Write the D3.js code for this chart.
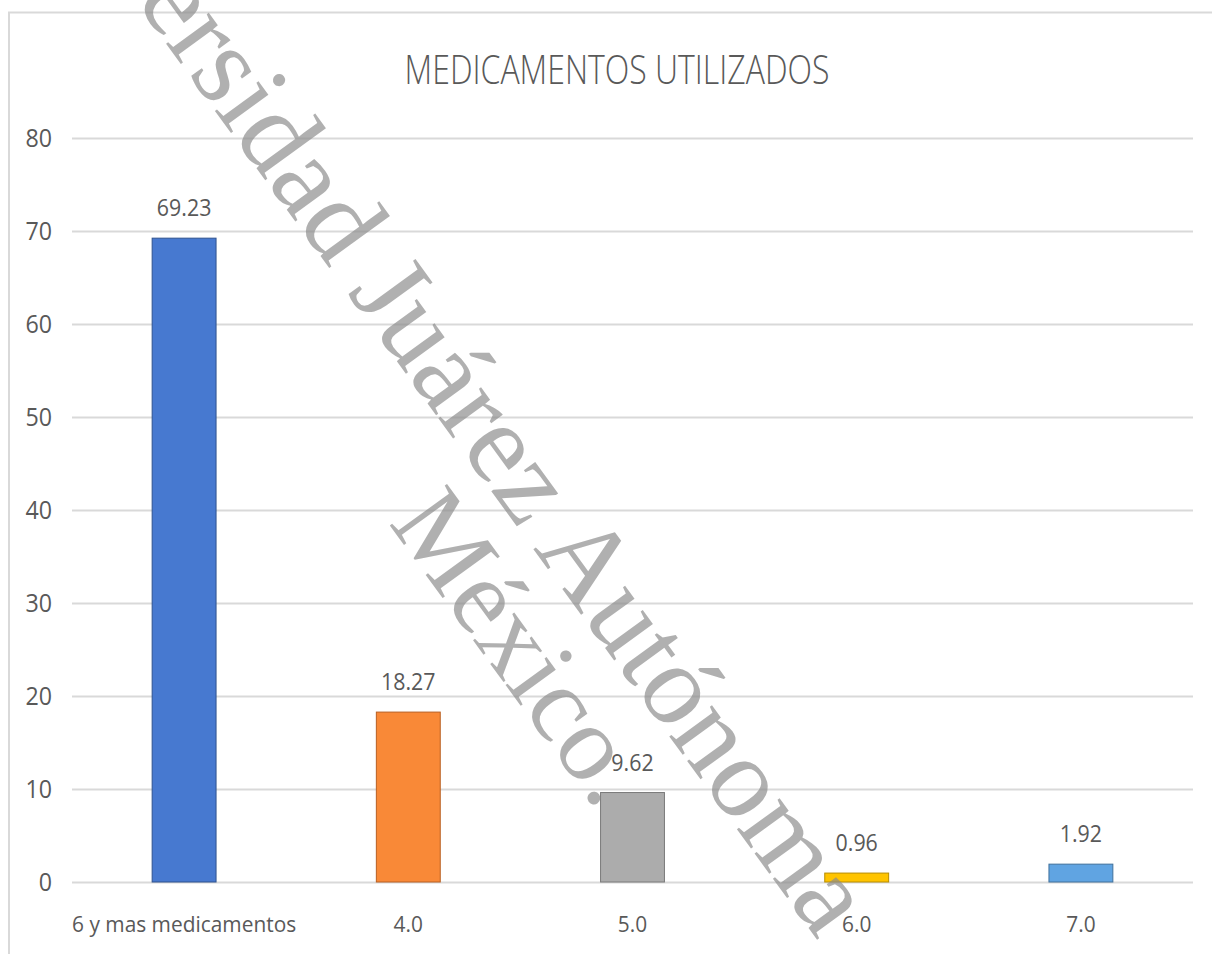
<!DOCTYPE html>
<html>
<head>
<meta charset="utf-8">
<script src="https://cdn.jsdelivr.net/npm/d3@7"></script>
<style>
  html, body { margin: 0; padding: 0; background: #fff; }
  svg { display: block; }
  text { font-family: "Open Sans", "Noto Sans", sans-serif; fill: #595959; }
</style>
</head>
<body>
<div id="chart"></div>
<script>
/* CONSTANTS AND GLOBALS */
const width = 1212,
  height = 954,
  margin = { top: 138, bottom: 72, left: 72, right: 19 };

const categories = ["6 y mas medicamentos", "4.0", "5.0", "6.0", "7.0"];
const values = [69.23, 18.27, 9.62, 0.96, 1.92];
const labels = ["69.23", "18.27", "9.62", "0.96", "1.92"];
const barColors = ["#4779d0", "#f98937", "#acacac", "#ffc400", "#60a4e2"];
const barStrokes = ["#2f528f", "#b85f22", "#7a7a7a", "#b88d00", "#41719c"];
const yTicks = [0, 10, 20, 30, 40, 50, 60, 70, 80];
const titleText = "MEDICAMENTOS UTILIZADOS";
const watermark = ["Universidad Juárez Autónoma", "México."];

let svg;

/**
* INITIALIZING FUNCTION
* */
function init() {
  svg = d3.select("#chart").append("svg")
    .attr("width", width)
    .attr("height", height);

  // chart frame
  svg.append("path")
    .attr("d", `M9,${height} V12.5 H${width}`)
    .attr("fill", "none")
    .attr("stroke", "#d9d9d9")
    .attr("stroke-width", 2);

  const x = d3.scaleBand()
    .domain(categories)
    .range([margin.left, width - margin.right])
    .paddingInner(0.715)
    .paddingOuter(0.3575);

  const y = d3.scaleLinear()
    .domain([0, 80])
    .range([height - margin.bottom, margin.top]);

  // gridlines
  svg.append("g")
    .attr("transform", `translate(${margin.left},0)`)
    .call(d3.axisLeft(y).tickValues(yTicks)
      .tickSize(-(width - margin.left - margin.right)).tickFormat(""))
    .call(g => g.select(".domain").remove())
    .call(g => g.selectAll("line").attr("stroke", "#d9d9d9").attr("stroke-width", 2));

  // y tick labels
  svg.append("g")
    .selectAll("text")
    .data(yTicks)
    .join("text")
    .attr("transform", d => `translate(52,${y(d) + 9}) scale(0.93,1)`)
    .attr("text-anchor", "end")
    .style("font-size", "25px")
    .text(d => d);

  // bars
  svg.append("g")
    .selectAll("rect")
    .data(values)
    .join("rect")
    .attr("x", (d, i) => x(categories[i]))
    .attr("y", d => y(d))
    .attr("width", x.bandwidth())
    .attr("height", d => y(0) - y(d))
    .attr("fill", (d, i) => barColors[i])
    .attr("stroke", (d, i) => barStrokes[i])
    .attr("stroke-width", 1);

  // data labels
  svg.append("g")
    .selectAll("text")
    .data(values)
    .join("text")
    .attr("transform", (d, i) =>
      `translate(${x(categories[i]) + x.bandwidth() / 2},${y(d) - 22}) scale(0.93,1)`)
    .attr("text-anchor", "middle")
    .style("font-size", "23px")
    .text((d, i) => labels[i]);

  // category labels
  svg.append("g")
    .selectAll("text")
    .data(categories)
    .join("text")
    .attr("transform", d => `translate(${x(d) + x.bandwidth() / 2},932) scale(0.95,1)`)
    .attr("text-anchor", "middle")
    .style("font-size", "22px")
    .text(d => d);

  // title
  svg.append("text")
    .attr("transform", "translate(617,84) scale(0.8,1)")
    .attr("text-anchor", "middle")
    .style("font-size", "40px")
    .style("font-weight", 300)
    .text(titleText);

  // watermark
  const wm = svg.append("g")
    .style("pointer-events", "none");
  wm.append("text")
    .attr("transform", "translate(818,941) rotate(54)")
    .attr("text-anchor", "end")
    .style("font-family", "'Liberation Serif', 'DejaVu Serif', serif")
    .style("font-size", "115px")
    .style("fill", "#8c8c8c")
    .style("opacity", 0.68)
    .text(watermark[0]);
  wm.append("text")
    .attr("transform", "translate(388,523) rotate(54)")
    .attr("text-anchor", "start")
    .style("font-family", "'Liberation Serif', 'DejaVu Serif', serif")
    .style("font-size", "108px")
    .style("fill", "#8c8c8c")
    .style("opacity", 0.68)
    .text(watermark[1]);
}

init();
</script>
</body>
</html>
